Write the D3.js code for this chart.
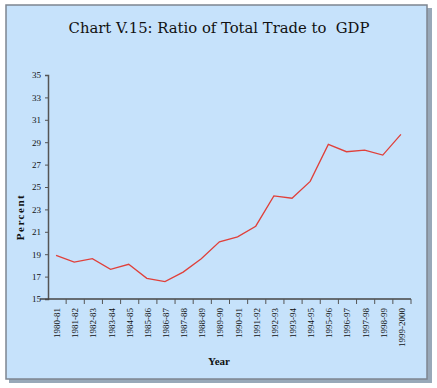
<!DOCTYPE html>
<html>
<head>
<meta charset="utf-8">
<script src="https://cdn.jsdelivr.net/npm/d3@7"></script>
<style>
  body { margin: 0; background: #fff; }
  text { font-family: "Liberation Serif", "DejaVu Serif", serif; fill: #111; }
</style>
</head>
<body>
<div id="chart"></div>
<script>
// data
var years = ["1980-81", "1981-82", "1982-83", "1983-84", "1984-85", "1985-86", "1986-87",
    "1987-88", "1988-89", "1989-90", "1990-91", "1991-92", "1992-93", "1993-94",
    "1994-95", "1995-96", "1996-97", "1997-98", "1998-99", "1999-2000"];
var ratio = [18.9, 18.3, 18.6, 17.65, 18.1, 16.85, 16.55, 17.4, 18.6, 20.1,
    20.55, 21.5, 24.2, 24.0, 25.5, 28.8, 28.15, 28.3, 27.85, 29.7];
var yTicks = [15, 17, 19, 21, 23, 25, 27, 29, 31, 33, 35];

var width = 437, height = 388;
var margin = { top: 75, left: 48, right: 24, bottom: 89 };

var svg = d3.select("#chart")
    .append("svg")
    .attr("width", width)
    .attr("height", height);

// frame with a grey shadow on the right and bottom
svg.append("rect")
    .attr("x", 9).attr("y", 8)
    .attr("width", 423).attr("height", 375)
    .attr("fill", "#98a8b8");
svg.append("rect")
    .attr("x", 6).attr("y", 5)
    .attr("width", 421).attr("height", 374)
    .attr("fill", "#c6e2fb")
    .attr("stroke", "#7d8590")
    .attr("stroke-width", 1.5);

svg.append("text")
    .attr("x", 219).attr("y", 33)
    .attr("text-anchor", "middle")
    .style("font-size", "14.8px")
    .style("font-family", "DejaVu Serif, serif")
    .style("white-space", "pre")
    .text("Chart V.15: Ratio of Total Trade to  GDP");

var x = d3.scaleBand()
    .domain(years)
    .range([margin.left, width - margin.right - 2]);

var y = d3.scaleLinear()
    .domain([15, 35])
    .range([height - margin.bottom, margin.top]);

// y axis
var yAxis = svg.append("g")
    .attr("transform", "translate(" + margin.left + ",0)")
    .call(d3.axisLeft(y).tickValues(yTicks).tickSize(3).tickPadding(4));
yAxis.select(".domain").attr("stroke", "#555").attr("stroke-width", 1.5);
yAxis.selectAll(".tick line").attr("stroke", "#555");
yAxis.selectAll("text")
    .style("font-size", "9px")
    .style("font-family", "Liberation Serif, serif")
    .attr("fill", "#111");

// x axis: ticks on band edges, labels rotated at band centres
var xAxis = svg.append("g")
    .attr("transform", "translate(0," + y(15) + ")");
xAxis.append("line")
    .attr("x1", margin.left - 8).attr("x2", x.range()[1])
    .attr("stroke", "#444").attr("stroke-width", 1.5);
xAxis.selectAll(".edge")
    .data(years)
    .enter().append("line")
    .attr("class", "edge")
    .attr("x1", function (d) { return x(d) + x.bandwidth(); })
    .attr("x2", function (d) { return x(d) + x.bandwidth(); })
    .attr("y1", 0).attr("y2", 5)
    .attr("stroke", "#555");
xAxis.selectAll(".lab")
    .data(years)
    .enter().append("text")
    .attr("class", "lab")
    .attr("transform", function (d) {
        return "translate(" + (x(d) + x.bandwidth() / 2 + 3) + ",9) rotate(-90)";
    })
    .attr("text-anchor", "end")
    .style("font-size", "9px")
    .text(function (d) { return d; });

svg.append("text")
    .attr("x", 219).attr("y", 365)
    .attr("text-anchor", "middle")
    .style("font-size", "11px")
    .style("font-weight", "bold")
    .text("Year");

svg.append("text")
    .attr("transform", "translate(24,217) rotate(-90)")
    .attr("text-anchor", "middle")
    .style("font-size", "11px")
    .style("font-weight", "bold")
    .style("letter-spacing", "1.5px")
    .text("Percent");

var line = d3.line()
    .x(function (d, i) { return x(years[i]) + x.bandwidth() / 2 - 1; })
    .y(function (d) { return y(d); });

svg.append("path")
    .datum(ratio)
    .attr("d", line)
    .attr("fill", "none")
    .attr("stroke", "#e0403a")
    .attr("stroke-width", 1.3);
</script>
</body>
</html>
